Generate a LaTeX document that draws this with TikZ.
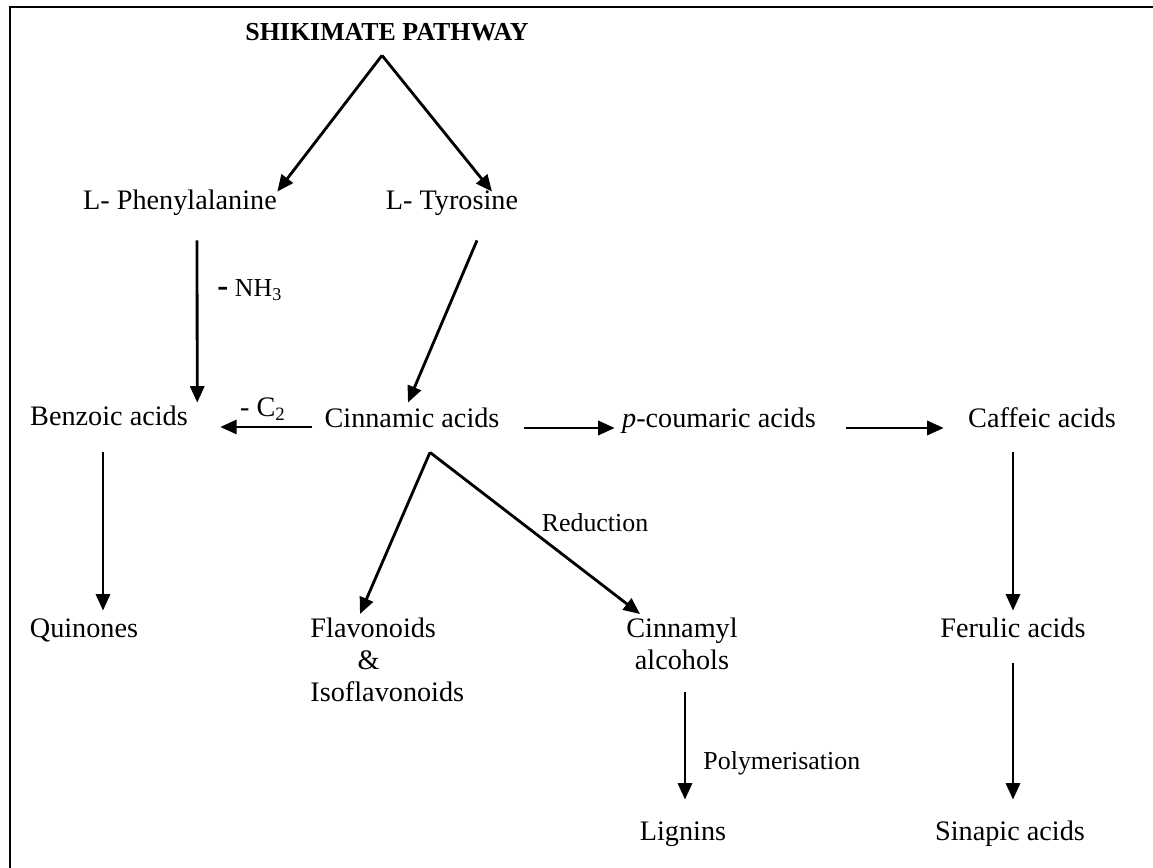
\documentclass[tikz,border=0pt]{standalone}
\usepackage{fontspec}
\setmainfont{Liberation Serif}
\usetikzlibrary{calc}
\usetikzlibrary{arrows.meta}

\begin{document}
\begin{tikzpicture}[x=0.425pt,y=-0.425pt,
	every node/.style={inner sep=0pt,font=\fontsize{12pt}{13.6pt}\selectfont},
	compound/.style={text height=8.5pt,text depth=2.5pt},
	note/.style={font=\fontsize{11pt}{13pt}\selectfont},
	reaction/.style={-{Triangle[length=7pt,width=6pt]},line width=1.2pt}]
	\useasboundingbox (0,0) rectangle (1153,868);
	\draw[line width=0.9pt] (10,868) -- (10,7) -- (1153,7);

	% compounds
	\node[compound,font=\fontsize{11pt}{13pt}\selectfont\bfseries] (shik) at (387,33) {SHIKIMATE PATHWAY};
	\node[compound] (phe) at (180,202) {L- Phenylalanine};
	\node[compound] (tyr) at (452,202) {L- Tyrosine};
	\node[compound] (benz) at (109,418) {Benzoic acids};
	\node[compound] (cinn) at (412,420) {Cinnamic acids};
	\node[compound] (pcou) at (719,420) {\textit{p}-coumaric acids};
	\node[compound] (caff) at (1042,420) {Caffeic acids};
	\node[compound] (quin) at (84,630) {Quinones};
	\node[anchor=north west,align=left] (flav) at (310,617) {Flavonoids\\\hspace*{20pt}\&\\Isoflavonoids};
	\node[anchor=north,align=center] (cinl) at (682,617) {Cinnamyl\\alcohols};
	\node[compound] (feru) at (1013,630) {Ferulic acids};
	\node[compound] (lign) at (683,833) {Lignins};
	\node[compound] (sina) at (1010,833) {Sinapic acids};

	% branch points
	\coordinate (fork) at ($(shik.south)+(-5,9)$);
	\coordinate (split) at ($(cinn.south)+(18,19)$);

	% reactions
	\draw[reaction] (fork) -- ($(phe.north east)+(0,3)$);
	\draw[reaction] (fork) -- ($(tyr.north)+(40,3)$);
	\draw[reaction] ($(phe.south)+(17,25)$) -- ($(benz.north east)+(9,-2)$);
	\draw[reaction] ($(tyr.south)+(25,25)$) -- ($(cinn.north)+(-4,-4)$);
	\draw[reaction] ($(cinn.west)+(-12,7)$) -- ($(benz.east)+(32,9)$);
	\draw[reaction] ($(cinn.east)+(24,8)$) -- ($(pcou.west)+(-7,8)$);
	\draw[reaction] ($(pcou.east)+(30,8)$) -- ($(caff.west)+(-24,8)$);
	\draw[reaction] ($(benz.south)+(-6,21)$) -- ($(quin.north)+(19,-6)$);
	\draw[reaction] (split) -- ($(flav.north west)+(50,-3)$);
	\draw[reaction] (split) -- ($(cinl.north)+(-42,-3)$);
	\draw[reaction] ($(caff.south)+(-29,19)$) -- ($(feru.north)+(0,-6)$);
	\draw[reaction] ($(cinl.south)+(3,22)$) -- ($(lign.north)+(2,-20)$);
	\draw[reaction] ($(feru.south)+(0,20)$) -- ($(sina.north)+(3,-20)$);

	% reaction labels
	\node[note,anchor=west] (nh) at (217,290) {{\fontsize{14pt}{14pt}\selectfont\bfseries -} NH\textsubscript{3}};
	\node (ctwo) at (263,409) {- C\textsubscript{2}};
	\node[note] (red) at (595,523) {Reduction};
	\node[note,anchor=west] (poly) at (703,763) {Polymerisation};
\end{tikzpicture}
\end{document}
